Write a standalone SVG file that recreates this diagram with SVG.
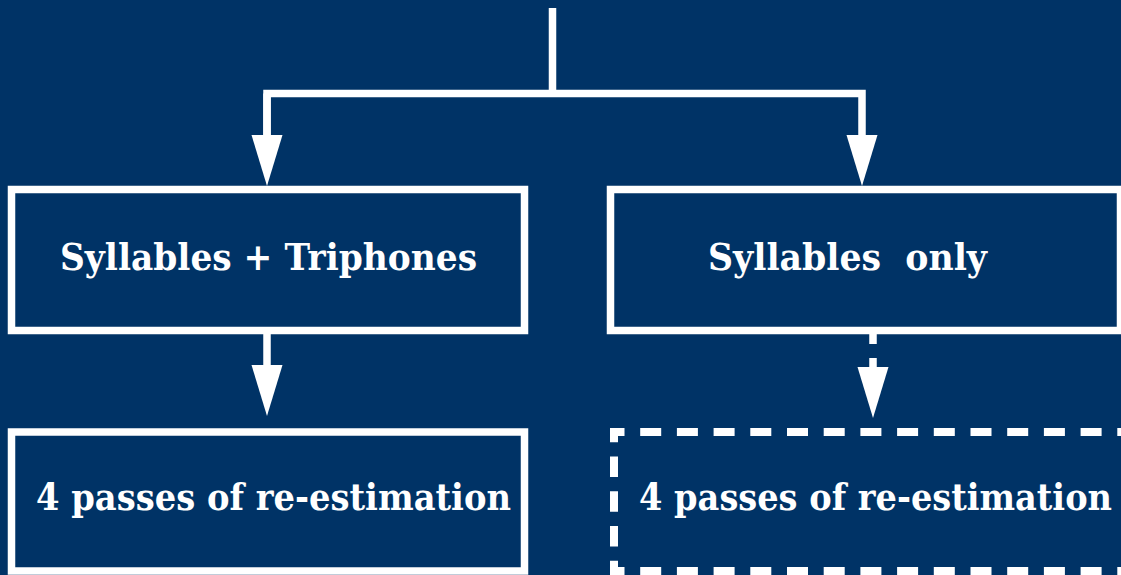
<svg xmlns="http://www.w3.org/2000/svg" width="1121" height="575" viewBox="0 0 1121 575">
  <style>
    .box { fill: none; stroke: #ffffff; stroke-width: 7.5; }
    .dash-h { fill: none; stroke: #ffffff; stroke-width: 8; stroke-linecap: square; stroke-dasharray: 13 23.7; stroke-dashoffset: 6.5; }
    .dash-v { fill: none; stroke: #ffffff; stroke-width: 8; stroke-linecap: square; stroke-dasharray: 12.5 22.25; stroke-dashoffset: 6.25; }
    .conn { fill: none; stroke: #ffffff; stroke-width: 7.5; }
    .conn-dash { fill: none; stroke: #ffffff; stroke-width: 7.5; stroke-dasharray: 10 14; }
    .label { font-family: "DejaVu Serif", "Liberation Serif", serif; font-weight: bold; font-size: 37px; fill: #ffffff; }
  </style>
  <defs>
    <marker id="arrow" markerUnits="userSpaceOnUse" markerWidth="52" markerHeight="32" viewBox="0 0 52 32" refX="3" refY="15.5" orient="auto">
      <path d="M0,0 L51,15.5 L0,31 Z" fill="#ffffff"/>
    </marker>
  </defs>
  <rect x="0" y="0" width="1121" height="575" fill="#003366"/>

  <g id="connectors">
    <path class="conn" d="M552.5,8 L552.5,93.5"/>
    <path class="conn" d="M267,138 L267,93.5 L862,93.5 L862,138" marker-end="url(#arrow)"/>
    <path class="conn" d="M267,93.5 L267,138" marker-end="url(#arrow)"/>
    <path class="conn" d="M267,334 L267,368" marker-end="url(#arrow)"/>
    <path class="conn-dash" d="M873,334 L873,370" marker-end="url(#arrow)"/>
  </g>

  <g id="node-syllables-triphones">
    <rect class="box" x="11.5" y="189.5" width="513" height="141"/>
    <text class="label" x="60" y="270" textLength="417" lengthAdjust="spacingAndGlyphs">Syllables + Triphones</text>
  </g>

  <g id="node-syllables-only">
    <rect class="box" x="610.5" y="189.5" width="510" height="141"/>
    <text class="label" x="708" y="270" textLength="279" lengthAdjust="spacingAndGlyphs" xml:space="preserve">Syllables  only</text>
  </g>

  <g id="node-reestimation-left">
    <rect class="box" x="11.5" y="432" width="513" height="139"/>
    <text class="label" x="36" y="510" textLength="475" lengthAdjust="spacingAndGlyphs">4 passes of re-estimation</text>
  </g>

  <g id="node-reestimation-right">
    <path class="dash-h" d="M614,432 L1140,432"/>
    <path class="dash-h" d="M614,571 L1140,571"/>
    <path class="dash-v" d="M614,432 L614,571"/>
    <text class="label" x="639" y="510" textLength="473" lengthAdjust="spacingAndGlyphs">4 passes of re-estimation</text>
  </g>
</svg>
